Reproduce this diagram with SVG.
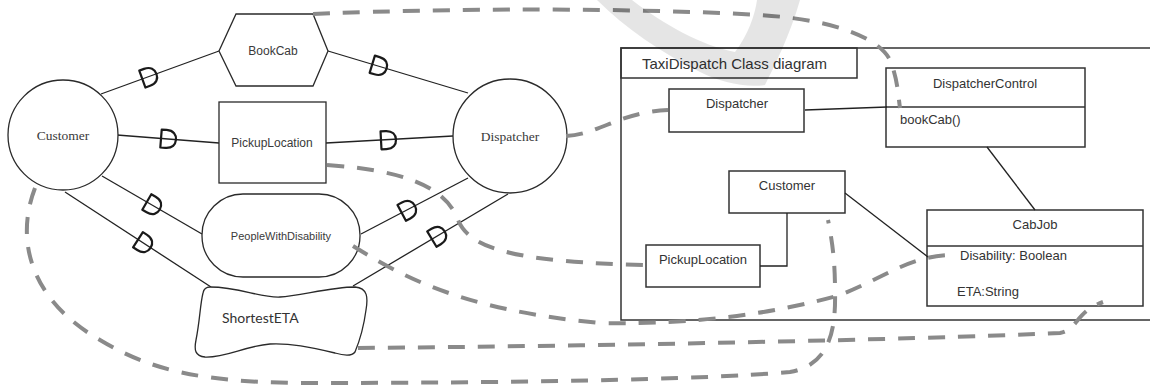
<svg xmlns="http://www.w3.org/2000/svg" width="1150" height="385" viewBox="0 0 1150 385">
  <style>
    .shape { fill: #fff; stroke: #2a2a2a; stroke-width: 1.3; }
    .box { fill: none; stroke: #333; stroke-width: 1.5; }
    .link { fill: none; stroke: #222; stroke-width: 1.3; }
    .trace { fill: none; stroke: #8a8a8a; stroke-width: 4; stroke-dasharray: 17 13; }
    .serif { font-family: "Liberation Serif", "Times New Roman", serif; font-size: 13.5px; fill: #3a3a3a; }
    .sans { font-family: "Liberation Sans", Arial, sans-serif; font-size: 12px; fill: #3a3a3a; }
    .cls { font-family: "Liberation Sans", Arial, sans-serif; font-size: 13px; fill: #333; }
    .mid { text-anchor: middle; }
  </style>
  <defs>
    <!-- delegation mark: flat side across the link, bowl facing along it -->
    <path id="dmark" d="M -6 -9 L -6 9 L -1 9 C 6 9 9 5 9 0 C 9 -5 6 -9 -1 -9 Z" fill="none" stroke="#1a1a1a" stroke-width="2.2" stroke-linejoin="round"/>
  </defs>

  <!-- solid dependency links -->
  <g id="links">
    <line class="link" x1="101" y1="94" x2="219" y2="51"/>
    <line class="link" x1="328" y1="51" x2="468" y2="93"/>
    <line class="link" x1="117" y1="135" x2="219" y2="143"/>
    <line class="link" x1="326" y1="143" x2="453" y2="136"/>
    <line class="link" x1="102" y1="176" x2="202" y2="234"/>
    <line class="link" x1="65" y1="192" x2="211" y2="287"/>
    <line class="link" x1="361" y1="234" x2="468" y2="178"/>
    <line class="link" x1="353" y1="286" x2="508" y2="194"/>
    <use href="#dmark" transform="translate(148 77) rotate(-20)"/>
    <use href="#dmark" transform="translate(378 66) rotate(17)"/>
    <use href="#dmark" transform="translate(167 139) rotate(4.5)"/>
    <use href="#dmark" transform="translate(387 140) rotate(-3)"/>
    <use href="#dmark" transform="translate(152 205) rotate(30)"/>
    <use href="#dmark" transform="translate(143 243) rotate(33)"/>
    <use href="#dmark" transform="translate(407 210) rotate(-28)"/>
    <use href="#dmark" transform="translate(437 236) rotate(-31)"/>
  </g>

  <!-- actors and elements -->
  <g id="customer">
    <circle class="shape" cx="63" cy="135" r="55"/>
    <text class="serif mid" x="63" y="140">Customer</text>
  </g>
  <g id="dispatcher">
    <circle class="shape" cx="510" cy="136" r="57"/>
    <text class="serif mid" x="510" y="141">Dispatcher</text>
  </g>
  <g id="bookcab">
    <polygon class="shape" points="219,51 236,14 313,14 328,51 313,86 236,86"/>
    <text class="sans mid" x="273" y="55">BookCab</text>
  </g>
  <g id="pickuplocation">
    <rect class="shape" x="219" y="102" width="107" height="81"/>
    <text class="sans mid" x="272" y="147">PickupLocation</text>
  </g>
  <g id="peoplewithdisability">
    <rect class="shape" x="202" y="194" width="158" height="83" rx="41" ry="41"/>
    <text class="sans mid" x="281" y="240" style="font-size:11px">PeopleWithDisability</text>
  </g>
  <g id="shortesteta">
    <path class="shape" d="M 210 287 C 240 287 260 298 280 297 C 300 296 330 287 355 287 C 368 288 368 298 366 310 C 364 325 360 340 355 352 C 352 356 345 356 335 353 C 310 347 290 343 270 344 C 245 346 225 358 205 357 C 195 356 194 350 196 340 C 200 320 200 305 203 293 C 204 288 207 287 210 287 Z"/>
    <text x="222" y="323" style="font-family: Lato, 'Open Sans', sans-serif; font-size: 14px; fill: #333">ShortestETA</text>
  </g>

  <!-- class diagram frame -->
  <g id="class-frame">
    <rect class="box" x="621" y="48" width="560" height="272"/>
    <rect class="box" x="621" y="48" width="236" height="30"/>
    <text class="cls" x="642" y="69" style="font-size:15px">TaxiDispatch Class diagram</text>
  </g>
  <g id="cls-dispatcher">
    <rect class="box" x="669" y="89" width="135" height="43"/>
    <text class="cls mid" x="737" y="108">Dispatcher</text>
  </g>
  <g id="cls-dispatchercontrol">
    <rect class="box" x="886" y="68" width="199" height="79"/>
    <line class="box" x1="886" y1="107" x2="1085" y2="107"/>
    <text class="cls mid" x="985" y="88">DispatcherControl</text>
    <text class="cls" x="900" y="124">bookCab()</text>
  </g>
  <g id="cls-customer">
    <rect class="box" x="729" y="171" width="116" height="42"/>
    <text class="cls mid" x="787" y="190">Customer</text>
  </g>
  <g id="cls-pickuplocation">
    <rect class="box" x="646" y="245" width="114" height="42"/>
    <text class="cls mid" x="703" y="264">PickupLocation</text>
  </g>
  <g id="cls-cabjob">
    <rect class="box" x="927" y="210" width="216" height="96"/>
    <line class="box" x1="927" y1="246" x2="1143" y2="246"/>
    <text class="cls mid" x="1035" y="229">CabJob</text>
    <text class="cls" x="960" y="260">Disability: Boolean</text>
    <text class="cls" x="957" y="296">ETA:String</text>
  </g>

  <!-- class associations and traceability links -->
  <g id="connectors">
    <line class="link" x1="805" y1="110" x2="887" y2="107"/>
    <line class="link" x1="987" y1="147" x2="1035" y2="210"/>
    <line class="link" x1="845" y1="193" x2="928" y2="257"/>
    <polyline class="link" points="787,213 787,266 760,266"/>

    <path class="trace" d="M 313 14 C 400 10 600 6 760 15 C 840 20 880 40 890 60 C 898 80 898 95 900 108"/>
    <path class="trace" d="M 566 136 C 600 134 620 112 668 110"/>
    <path class="trace" d="M 327 165 C 400 170 445 185 458 220 C 470 250 520 262 645 265"/>
    <path class="trace" d="M 353 246 C 400 275 460 310 600 323 C 700 325 780 312 840 295 C 890 275 910 255 955 255"/>
    <path class="trace" d="M 358 348 C 600 346 900 340 1060 333 C 1078 330 1075 312 1103 302"/>
    <path class="trace" d="M 35 188 C 15 240 30 300 100 340 C 150 370 200 382 300 383 C 500 383 700 380 790 372 C 830 365 836 330 835 290 C 835 260 832 240 828 220"/>
  </g>

  <!-- faint swoosh laid over the page -->
  <path d="M 597 0 L 632 0 C 665 25 700 45 735 52 C 748 35 755 15 757 0 L 800 0 C 790 35 775 65 765 85 C 745 88 720 82 700 72 C 660 52 625 28 597 0 Z" fill="#000" fill-opacity="0.1"/>
</svg>
